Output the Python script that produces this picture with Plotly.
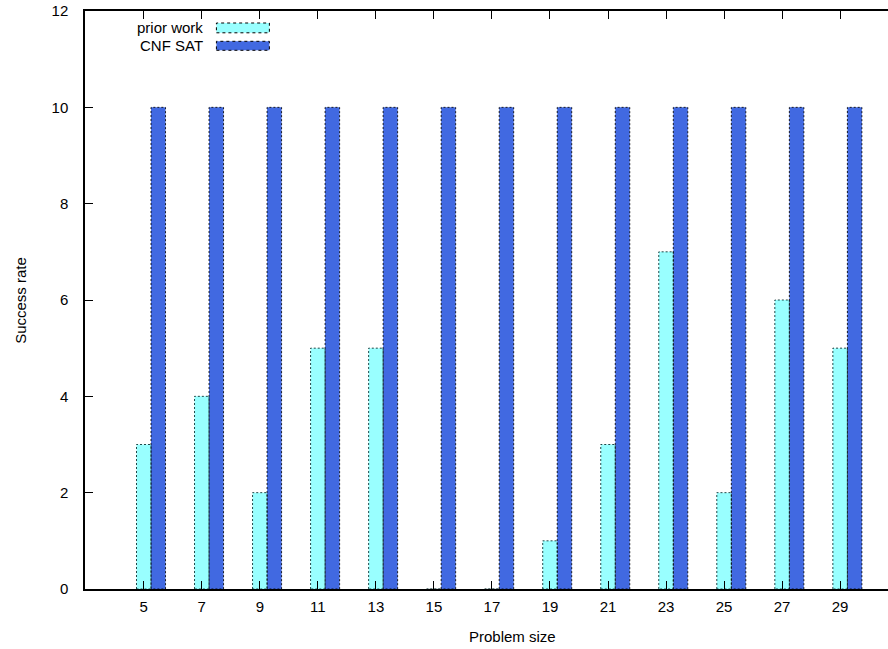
import plotly.graph_objects as go

sizes = [5, 7, 9, 11, 13, 15, 17, 19, 21, 23, 25, 27, 29]
prior_work = [3, 4, 2, 5, 5, 0, 0, 1, 3, 7, 2, 6, 5]
cnf_sat = [10, 10, 10, 10, 10, 10, 10, 10, 10, 10, 10, 10, 10]
series_names = ["prior work", "CNF SAT"]
y_ticks = [0, 2, 4, 6, 8, 10, 12]

CYAN = "#99ffff"
BLUE = "#4169e1"
FONT = "Liberation Sans, Arial, sans-serif"
FS = 15
W, H = 888, 649
L, R, T, B = 84.5, 0, 10.7, 60.3
pw, ph = W - L - R, H - T - B

def px_x(p):
    return (p - L) / pw

def px_y(p):
    return (H - B - p) / ph

bar_w = 0.5
offsets = [-0.25, 0.25]

def outline(xs, ys, off):
    ox, oy = [], []
    for x, y in zip(xs, ys):
        x0, x1 = x + off, x + off + bar_w
        ox += [x0, x0, x1, x1, x0, None]
        oy += [0, y, y, 0, 0, None]
    return ox, oy

fig = go.Figure()
for vals, color, off, name in [(prior_work, CYAN, offsets[0], series_names[0]),
                               (cnf_sat, BLUE, offsets[1], series_names[1])]:
    fig.add_trace(go.Bar(x=sizes, y=vals, width=bar_w, offset=off, name=name,
                         marker=dict(color=color, line=dict(width=0)),
                         showlegend=False))
for vals, off, lc in [(prior_work, offsets[0], "rgba(0,40,40,0.85)"),
                      (cnf_sat, offsets[1], "rgba(0,0,0,0.85)")]:
    ox, oy = outline(sizes, vals, off)
    fig.add_trace(go.Scatter(x=ox, y=oy, mode="lines", showlegend=False,
                             hoverinfo="skip",
                             line=dict(color=lc, width=1, dash="2px,2px")))

# gnuplot-style key
key = [(series_names[0], CYAN, 22.7, 32.5, 27.5),
       (series_names[1], BLUE, 41.0, 50.0, 45.5)]
for name, color, y0, y1, yc in key:
    fig.add_shape(type="rect", xref="paper", yref="paper",
                  x0=px_x(216), x1=px_x(269), y0=px_y(y1), y1=px_y(y0),
                  fillcolor=color, line=dict(color="black", width=1, dash="dot"))
    fig.add_annotation(text=name, xref="paper", yref="paper", x=px_x(205), y=px_y(yc),
                       xanchor="right", yanchor="middle", showarrow=False,
                       font=dict(family=FONT, size=FS, color="black"))

fig.add_annotation(text="Problem size", xref="paper", yref="paper",
                   x=px_x(512), y=px_y(636), xanchor="center", yanchor="middle",
                   showarrow=False, font=dict(family=FONT, size=FS, color="black"))
fig.add_annotation(text="Success rate", xref="paper", yref="paper",
                   x=px_x(20), y=px_y(300), xanchor="center", yanchor="middle",
                   textangle=-90, showarrow=False,
                   font=dict(family=FONT, size=FS, color="black"))

fig.update_layout(
    width=W, height=H, margin=dict(l=L, r=R, t=T, b=B, pad=0),
    paper_bgcolor="white", plot_bgcolor="white",
    barmode="overlay", showlegend=False,
    font=dict(family=FONT, size=FS, color="black"),
    xaxis=dict(range=[2.975, 30.65], tickvals=sizes, ticktext=[str(s) for s in sizes],
               ticks="inside", ticklen=8, tickcolor="black", tickwidth=1,
               showline=True, linecolor="black", linewidth=1.5, mirror="ticks",
               showgrid=False, zeroline=False, ticklabelstandoff=3),
    yaxis=dict(range=[0, 12], tickvals=y_ticks, ticktext=[str(v) for v in y_ticks],
               ticks="inside", ticklen=8, tickcolor="black", tickwidth=1,
               showline=True, linecolor="black", linewidth=1.5, mirror=False,
               showgrid=False, zeroline=False, ticklabelstandoff=12),
)

fig.write_html("out.html", config={"displayModeBar": False},
               post_script="document.body.style.margin='0';document.body.style.overflow='hidden';")
